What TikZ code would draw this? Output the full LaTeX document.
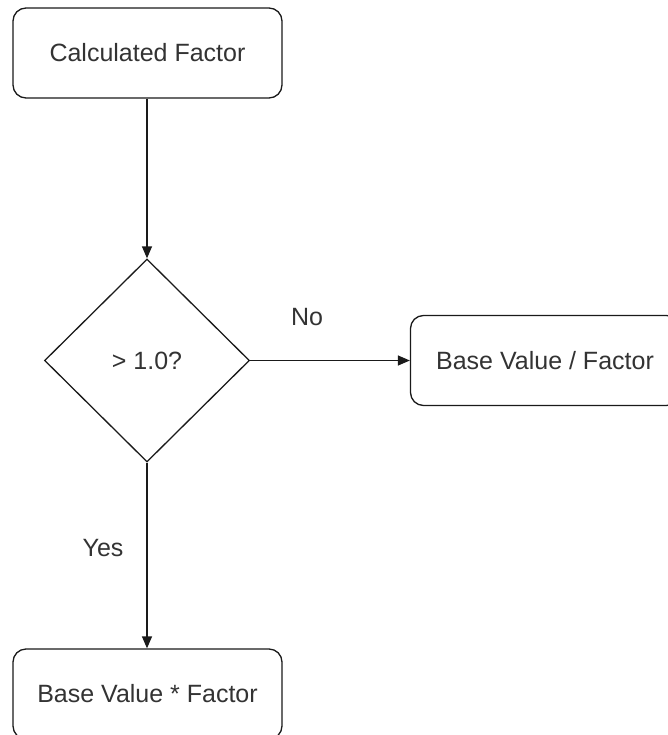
\documentclass[tikz,border=0pt]{standalone}
\usepackage{fontspec}
\setmainfont{Liberation Sans}
\usetikzlibrary{shapes.geometric,arrows.meta}
\definecolor{inkline}{HTML}{1A1A1A}
\definecolor{inktext}{HTML}{333333}
\tikzset{
  base/.style={draw=inkline, line width=1.3pt, fill=white, text=inktext,
    font=\fontsize{25}{30}\selectfont, inner sep=0pt},
  procbox/.style={base, rectangle, rounded corners=13pt,
    minimum width=269pt, minimum height=90pt},
  decision/.style={base, diamond, minimum width=205pt, minimum height=203pt},
  flow/.style={draw=inkline, line width=1.3pt,
    -{Stealth[length=12pt, width=10pt, inset=0pt]}},
  edgelabel/.style={text=inktext, font=\fontsize{25}{30}\selectfont, inner sep=0pt}
}
\begin{document}
\begin{tikzpicture}[x=1pt, y=-1pt]
  \useasboundingbox (0,0) rectangle (668,735);
  \node[procbox] (calc) at (147.5,53) {Calculated Factor};
  \node[decision] (test) at (147,360.5) {> 1.0?};
  \node[procbox] (divide) at (545,360.5) {Base Value / Factor};
  \node[procbox] (multiply) at (147.5,694) {Base Value * Factor};
  \draw[flow] (calc.south -| test.north) -- (test.north);
  \draw[flow] (test.east) -- (divide.west);
  \draw[flow] (test.south) -- (multiply.north -| test.south);
  \node[edgelabel] (nolabel) at (307,317) {No};
  \node[edgelabel] (yeslabel) at (103,548) {Yes};
\end{tikzpicture}
\end{document}
